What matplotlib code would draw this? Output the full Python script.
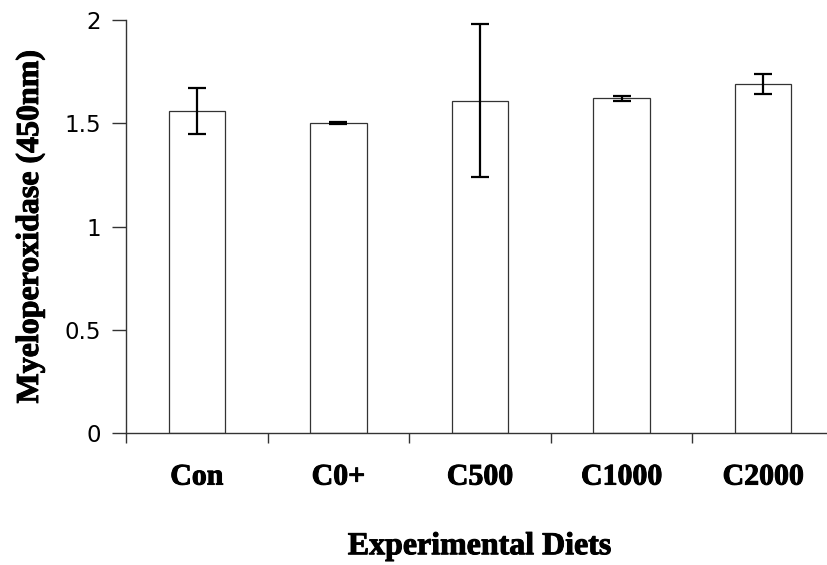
import matplotlib
matplotlib.use("Agg")
import matplotlib.pyplot as plt
import matplotlib.patheffects as pe
import numpy as np

# data
diets = ["Con", "C0+", "C500", "C1000", "C2000"]
mpo = [1.56, 1.50, 1.61, 1.62, 1.69]
mpo_err = [0.11, 0.006, 0.37, 0.012, 0.05]
yticks = [0, 0.5, 1, 1.5, 2]
ytick_labels = ["0", "0.5", "1", "1.5", "2"]

fig = plt.figure(figsize=(8.27, 5.65), dpi=100)
ax = fig.add_axes([0.1524, 0.2336, 0.856, 0.731])

x = np.arange(len(diets))
ax.bar(x, mpo, width=0.4, color="white", edgecolor="#333333", linewidth=0.9, zorder=2)
ax.errorbar(x, mpo, yerr=mpo_err, fmt="none", ecolor="black",
            elinewidth=1.6, capsize=6.5, capthick=1.6, zorder=3)

ax.set_xlim(-0.5, len(diets) - 0.5)
ax.set_ylim(0, 2)
ax.set_yticks(yticks)
ax.set_yticklabels(ytick_labels, fontsize=16.5, family="DejaVu Sans")

heavy = [pe.withStroke(linewidth=0.7, foreground="black")]

# category ticks sit between bars, labels at bar centres
ax.set_xticks(np.arange(len(diets) + 1) - 0.5)
ax.set_xticklabels([])
ax.set_xticks(x, minor=True)
ax.set_xticklabels(diets, minor=True, fontsize=21.5, fontweight="bold",
                   family="Liberation Serif", path_effects=heavy)
ax.tick_params(axis="x", which="minor", length=0, pad=22)
ax.tick_params(axis="x", which="major", length=7, width=1, color="#333333", direction="out")
ax.tick_params(axis="y", length=10, width=1, color="#333333", pad=8)

for side in ["top", "right"]:
    ax.spines[side].set_visible(False)
for side in ["left", "bottom"]:
    ax.spines[side].set_color("#333333")
    ax.spines[side].set_linewidth(1.0)

ax.set_xlabel("Experimental Diets", fontsize=23, fontweight="bold",
              family="Liberation Serif", labelpad=30, path_effects=heavy)
ax.set_ylabel("Myeloperoxidase (450nm)", fontsize=23, fontweight="bold",
              family="Liberation Serif", labelpad=14, path_effects=heavy)

fig.savefig("out.png", dpi=100)
